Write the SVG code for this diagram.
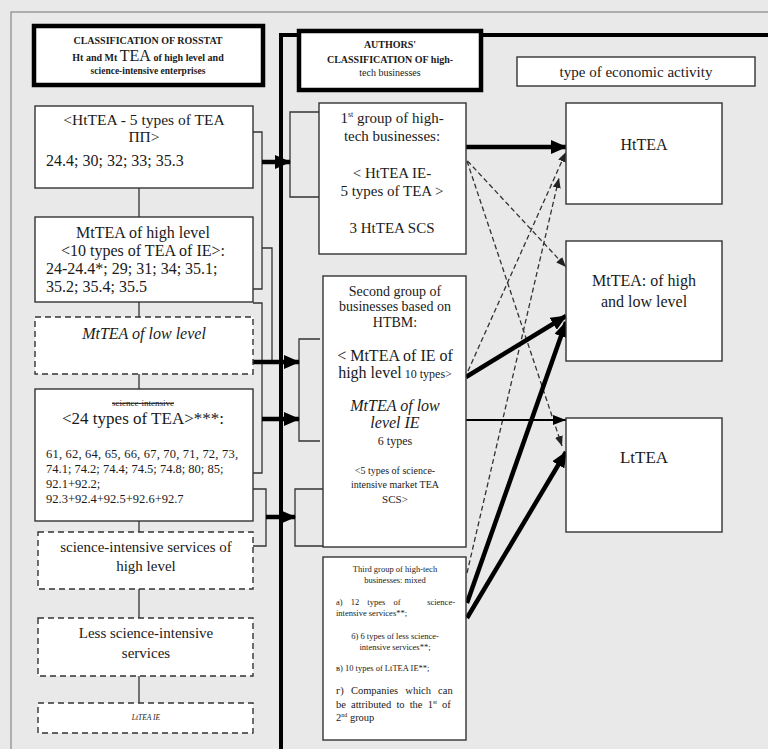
<svg xmlns="http://www.w3.org/2000/svg" width="768" height="749" viewBox="0 0 768 749">
<defs>
<style>
.bg{fill:#e9e9e9}
.box{fill:#fff;stroke:#333;stroke-width:1.4}
.dbox{fill:#fff;stroke:#333;stroke-width:1.4;stroke-dasharray:6,4}
.tbox{fill:#fff;stroke:#000;stroke-width:4.5}
.t{font-family:"Liberation Serif","Times New Roman",serif;fill:#1a1a1a}
.c{text-anchor:middle}
.e{text-anchor:end}
.b{font-weight:bold}
.i{font-style:italic}
.ln{fill:none;stroke:#333;stroke-width:1.3}
.thick{fill:none;stroke:#000;stroke-width:4.5}
.med{fill:none;stroke:#000;stroke-width:2.2}
.dash{fill:none;stroke:#333;stroke-width:1.3;stroke-dasharray:5,3}
</style>
<marker id="ah" markerUnits="userSpaceOnUse" markerWidth="16" markerHeight="14" refX="15" refY="7" orient="auto"><path d="M0,0 L16,7 L0,14 z" fill="#000"/></marker>
<marker id="am" markerUnits="userSpaceOnUse" markerWidth="13" markerHeight="10" refX="13" refY="5" orient="auto"><path d="M0,0 L13,5 L0,10 z" fill="#000"/></marker>
<marker id="ad" markerUnits="userSpaceOnUse" markerWidth="10" markerHeight="8" refX="10" refY="4" orient="auto"><path d="M0,0 L10,4 L0,8 z" fill="#222"/></marker>
</defs>
<rect class="bg" x="0" y="0" width="768" height="749"/>
<rect x="11" y="12" width="770" height="760" fill="none" stroke="#888" stroke-width="1.2"/>

<g id="connectors">
<path d="M281,749 L281,35 L768,35" fill="none" stroke="#000" stroke-width="4"/>
<path class="ln" d="M139,188 V217 M139,302 V317 M139,374 V389 M139,521 V532 M139,589 V618 M139,676 V703"/>
<path class="ln" d="M253,132 H262 V289 H253"/>
<path class="ln" d="M262,248 H272 V362"/>
<path class="ln" d="M253,303 H262 V473 H253"/>
<path class="ln" d="M253,489 H266 V546 H253"/>
<path class="ln" d="M319,112 H290 V197 H319"/>
<path class="ln" d="M320,339 H299 V441 H320"/>
<path class="ln" d="M323,489 H295 V546 H323"/>
<line class="thick" x1="262" y1="162" x2="290" y2="162" marker-end="url(#ah)"/>
<line class="thick" x1="253" y1="362" x2="299" y2="362" marker-end="url(#ah)"/>
<line class="thick" x1="262" y1="419" x2="299" y2="419" marker-end="url(#ah)"/>
<line class="thick" x1="266" y1="517" x2="295" y2="517" marker-end="url(#ah)"/>
<line class="thick" x1="462" y1="147" x2="566" y2="147" marker-end="url(#ah)"/>
<line class="dash" x1="462" y1="155" x2="566" y2="267" marker-end="url(#ad)"/>
<line class="dash" x1="467" y1="161" x2="562" y2="446" marker-end="url(#ad)"/>
<line class="dash" x1="468" y1="371" x2="566" y2="152" marker-end="url(#ad)"/>
<line class="dash" x1="467" y1="573" x2="559" y2="178" marker-end="url(#ad)"/>
<line class="thick" x1="466" y1="377" x2="566" y2="316" marker-end="url(#ah)"/>
<line class="med" x1="466" y1="420" x2="566" y2="420" marker-end="url(#am)"/>
<line class="thick" x1="467" y1="603" x2="566" y2="322" marker-end="url(#ah)"/>
<line class="thick" x1="467" y1="618" x2="566" y2="452" marker-end="url(#ah)"/>
</g>

<g id="title-rosstat">
<rect class="tbox" x="34" y="26" width="229" height="59"/>
<text class="t c b" x="148" y="44" font-size="10">CLASSIFICATION  OF ROSSTAT</text>
<text class="t c b" x="148" y="61" font-size="10">Ht and Mt <tspan font-size="16" font-weight="normal">TEA</tspan> of high level and</text>
<text class="t c b" x="148" y="74" font-size="9.5">science-intensive enterprises</text>
</g>

<g id="title-authors">
<rect class="tbox" x="299" y="31" width="182" height="59"/>
<text class="t c b" x="390" y="48" font-size="10">AUTHORS'</text>
<text class="t c b" x="390" y="63" font-size="10">CLASSIFICATION  OF  high-</text>
<text class="t c" x="390" y="76" font-size="10">tech businesses</text>
</g>

<g id="type-activity">
<rect class="box" x="517" y="57" width="238" height="29"/>
<text class="t c" x="636" y="77" font-size="15">type of economic activity</text>
</g>

<g id="l1">
<rect class="box" x="35" y="106" width="218" height="82"/>
<text class="t c" x="144" y="125" font-size="15.5">&lt;HtTEA - 5 types of TEA</text>
<text class="t c" x="144" y="142" font-size="15.5">ПП&gt;</text>
<text class="t" x="46" y="166" font-size="16">24.4; 30; 32; 33; 35.3</text>
</g>

<g id="l2">
<rect class="box" x="35" y="217" width="218" height="85"/>
<text class="t c" x="143" y="238" font-size="16">MtTEA of high level</text>
<text class="t c" x="143" y="256" font-size="16">&lt;10 types of TEA of IE&gt;:</text>
<text class="t" x="46" y="274" font-size="16">24-24.4*; 29; 31; 34; 35.1;</text>
<text class="t" x="46" y="292" font-size="16">35.2; 35.4; 35.5</text>
</g>

<g id="l3">
<rect class="dbox" x="35" y="317" width="218" height="57"/>
<text class="t c i" x="144" y="339" font-size="16">MtTEA of low level</text>
</g>

<g id="l4">
<rect class="box" x="35" y="389" width="218" height="132"/>
<text class="t c" x="143" y="406" font-size="9" text-decoration="line-through">science-intensive</text>
<text class="t c" x="143" y="424" font-size="17">&lt;24 types of TEA&gt;***:</text>
<text class="t" x="46" y="458" font-size="12.5" textLength="192" lengthAdjust="spacing">61, 62, 64, 65, 66, 67, 70, 71, 72, 73,</text>
<text class="t" x="46" y="473" font-size="12.5">74.1; 74.2; 74.4; 74.5; 74.8; 80; 85;</text>
<text class="t" x="46" y="488" font-size="12.5">92.1+92.2;</text>
<text class="t" x="46" y="503" font-size="12.5">92.3+92.4+92.5+92.6+92.7</text>
</g>

<g id="l5">
<rect class="dbox" x="38" y="532" width="215" height="57"/>
<text class="t c" x="146" y="552" font-size="15">science-intensive services of</text>
<text class="t c" x="146" y="571" font-size="15">high level</text>
</g>

<g id="l6">
<rect class="dbox" x="38" y="618" width="215" height="58"/>
<text class="t c" x="146" y="638" font-size="15">Less science-intensive</text>
<text class="t c" x="146" y="658" font-size="15">services</text>
</g>

<g id="l7">
<rect class="dbox" x="38" y="703" width="215" height="30"/>
<text class="t c i" x="146" y="720" font-size="7.5">LtTEA IE</text>
</g>

<g id="m1">
<rect class="box" x="319" y="103" width="147" height="151"/>
<text class="t c" x="392" y="123" font-size="15">1<tspan font-size="8" dy="-6">st</tspan><tspan dy="6"> group of high-</tspan></text>
<text class="t c" x="392" y="141" font-size="15">tech businesses:</text>
<text class="t c" x="392" y="178" font-size="15">&lt; HtTEA IE-</text>
<text class="t c" x="392" y="196" font-size="15">5 types of TEA &gt;</text>
<text class="t c" x="392" y="233" font-size="15">3 HtTEA SCS</text>
</g>

<g id="m2">
<rect class="box" x="323" y="276" width="143" height="271"/>
<text class="t c" x="395" y="296" font-size="14">Second group of</text>
<text class="t c" x="395" y="311" font-size="14">businesses based on</text>
<text class="t c" x="395" y="327" font-size="14">HTBM:</text>
<text class="t c" x="395" y="361" font-size="16">&lt; MtTEA of IE of</text>
<text class="t c" x="395" y="378" font-size="16">high level<tspan font-size="12"> 10 types&gt;</tspan></text>
<text class="t c i" x="395" y="411" font-size="16">MtTEA of low</text>
<text class="t c i" x="395" y="428" font-size="16">level IE</text>
<text class="t c" x="395" y="445" font-size="12">6 types</text>
<text class="t c" x="395" y="474" font-size="10">&lt;5 types of  science-</text>
<text class="t c" x="395" y="488" font-size="10">intensive  market TEA</text>
<text class="t c" x="395" y="503" font-size="11">SCS&gt;</text>
</g>

<g id="m3">
<rect class="box" x="323" y="557" width="143" height="183"/>
<text class="t c" x="395" y="572" font-size="8.5">Third group of high-tech</text>
<text class="t c" x="395" y="583" font-size="8.5">businesses: mixed</text>
<text class="t" x="336" y="605" font-size="8.5" word-spacing="6">a) 12 types of</text>
<text class="t e" x="455" y="605" font-size="8.5">science-</text>
<text class="t" x="336" y="616" font-size="8.5">intensive services**;</text>
<text class="t c" x="395" y="639" font-size="8.5">б) 6 types of less science-</text>
<text class="t c" x="395" y="650" font-size="8.5">intensive services**;</text>
<text class="t" x="336" y="671" font-size="8.5">в) 10 types of LtTEA IE**;</text>
<text class="t" x="336" y="694" font-size="10.5" word-spacing="4.5">г) Companies which can</text>
<text class="t" x="336" y="708" font-size="10.5" word-spacing="2.5">be attributed to the 1<tspan font-size="6" dy="-4">st</tspan><tspan dy="4"> of</tspan></text>
<text class="t" x="336" y="721" font-size="10.5">2<tspan font-size="6" dy="-4">nd</tspan><tspan dy="4"> group</tspan></text>
</g>

<g id="r1">
<rect class="box" x="566" y="103" width="156" height="101"/>
<text class="t c" x="644" y="150" font-size="16">HtTEA</text>
</g>

<g id="r2">
<rect class="box" x="566" y="241" width="156" height="120"/>
<text class="t c" x="644" y="286" font-size="16">MtTEA: of high</text>
<text class="t c" x="644" y="307" font-size="16">and low level</text>
</g>

<g id="r3">
<rect class="box" x="566" y="418" width="156" height="114"/>
<text class="t c" x="644" y="463" font-size="17">LtTEA</text>
</g>
</svg>
